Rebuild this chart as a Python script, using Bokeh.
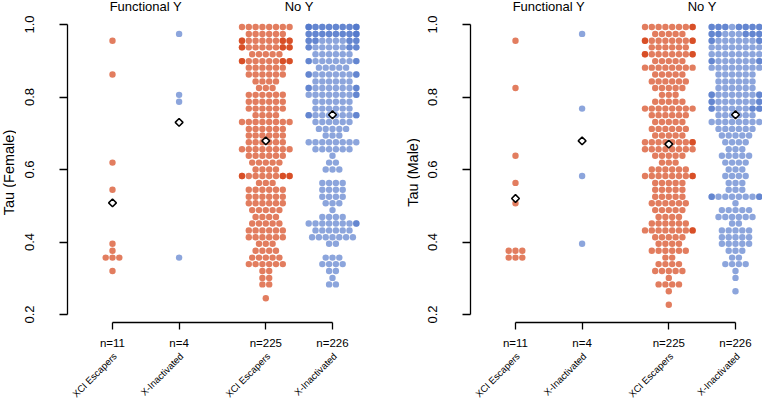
import math
from bokeh.plotting import figure
from bokeh.models import Range1d, FixedTicker, PrintfTickFormatter
from bokeh.layouts import row, column
from bokeh.embed import file_html
from bokeh.resources import INLINE
from bokeh.core.properties import value

# ---- data ----
# beeswarm row levels (tau) from top
tau_levels = [0.993, 0.974, 0.955, 0.937, 0.918, 0.899, 0.881, 0.862, 0.843, 0.825,
              0.806, 0.787, 0.768, 0.750, 0.731, 0.712, 0.694, 0.675, 0.656, 0.638,
              0.619, 0.600, 0.582, 0.563, 0.544, 0.525, 0.507, 0.488, 0.469, 0.451,
              0.432, 0.413, 0.395, 0.376, 0.357, 0.339, 0.320, 0.301, 0.283, 0.264,
              0.245, 0.227]

group_headers = ["Functional Y", "No Y"]
category_names = ["XCI Escapers", "X-Inactivated", "XCI Escapers", "X-Inactivated"]
n_female = [11, 4, 225, 226]
n_male = [11, 4, 225, 226]

# Female: functional-Y groups (tau values)
f_funcy_xci = [0.955, 0.862, 0.618, 0.545, 0.398, 0.379, 0.360, 0.360, 0.360, 0.323]
f_funcy_xin = [0.975, 0.805, 0.787, 0.360]
# Female: no-Y groups (dots per row level)
f_noy_xci = [8, 6, 11, 11, 5, 11, 6, 6, 4, 3, 6, 6, 6, 4, 8, 6, 6, 6, 8, 6,
             5, 4, 11, 3, 6, 6, 6, 5, 4, 5, 6, 6, 3, 4, 5, 6, 2, 2, 2, 0, 1]
f_noy_xin = [18, 17, 12, 11, 6, 10, 5, 10, 6, 10, 9, 6, 6, 10, 6, 5, 3, 8, 6, 1,
             2, 3, 0, 4, 4, 4, 3, 1, 4, 9, 6, 7, 2, 0, 3, 4, 2, 1, 2]
f_means = [0.508, 0.730, 0.679, 0.751]

# Male
m_funcy_xci = [0.955, 0.823, 0.636, 0.563, 0.507, 0.376, 0.376, 0.376, 0.357, 0.357, 0.357]
m_funcy_xin = [0.975, 0.768, 0.582, 0.397]
m_noy_xci = [9, 5, 10, 6, 10, 5, 8, 5, 6, 5, 3, 5, 8, 6, 5, 6, 5, 9, 8, 5,
             3, 6, 9, 5, 5, 5, 6, 5, 4, 6, 9, 5, 4, 6, 2, 4, 5, 1, 4, 1, 0, 1]
m_noy_xin = [15, 13, 10, 8, 8, 10, 8, 6, 6, 6, 10, 10, 11, 6, 8, 6, 5, 4, 3, 5,
             4, 3, 4, 3, 3, 10, 1, 5, 6, 2, 5, 5, 5, 3, 2, 4, 1, 1, 0, 1]
m_means = [0.520, 0.679, 0.670, 0.751]

# ---- layout / style ----
RED = (210, 55, 9)
BLUE = (78, 117, 201)
group_colors = [RED, BLUE, RED, BLUE]
cat_x = [45.0, 111.6, 198.3, 265.0]   # x positions (px units from y axis)
DX = 6.8                              # swarm grid spacing (px)
MAXN = 8                              # corral width in dots
FONT = "Liberation Sans"
H_TOTAL = 398
H_PLOT = 351                          # height of the swarm figure
H_NAMES = H_TOTAL - H_PLOT            # strip holding rotated names
AXIS_Y = 322                          # canvas y of x axis line (frame bottom)
PX_PER_UNIT = 362.5
Y_TOP = 1.0 + 24 / PX_PER_UNIT        # tau 1.0 at canvas y=24
Y_BOT = 1.0 - (AXIS_Y - 24) / PX_PER_UNIT
HEADER_Y = 1.0 + 18 / PX_PER_UNIT
TITLE_CY = 172                        # canvas y of the y-axis title centre


def bin_values(vals):
    counts = [0] * len(tau_levels)
    for v in vals:
        k = min(range(len(tau_levels)), key=lambda i: abs(tau_levels[i] - v))
        counts[k] += 1
    return counts


def swarm(counts, center):
    xs, ys = [], []
    for k, c in enumerate(counts):
        if c == 0:
            continue
        base = min(c, MAXN)
        offs = [i - (base - 1) / 2 for i in range(base)]
        slots = []
        for v in sorted(set(abs(o) for o in offs), reverse=True):
            slots += [v, -v] if v != 0 else [0.0]
        extra = [slots[j % len(slots)] for j in range(c - base)]
        for o in offs + extra:
            xs.append(center + o * DX)
            ys.append(tau_levels[k])
    return xs, ys


def panel(strip_w, title_x, width, border_left, ylabel, groups, means, ns):
    # strip on the left holding the y-axis title
    t = figure(width=strip_w, height=H_TOTAL, output_backend="svg", toolbar_location=None,
               x_range=Range1d(0, strip_w), y_range=Range1d(0, H_TOTAL),
               x_axis_type=None, y_axis_type=None, min_border_left=0,
               min_border_right=0, min_border_top=0, min_border_bottom=0)
    t.outline_line_color = None
    t.grid.grid_line_color = None
    t.text(x=[title_x], y=[H_TOTAL - TITLE_CY], text=[ylabel], angle=math.pi / 2,
           text_align="center", text_baseline="middle", text_font=value(FONT),
           text_font_size=value("14.5px"), text_color="black")

    xr = Range1d(0, width - border_left)
    p = figure(width=width, height=H_PLOT, output_backend="svg", toolbar_location=None,
               x_range=xr, y_range=Range1d(Y_BOT, Y_TOP),
               min_border_left=border_left, min_border_right=0,
               min_border_top=0, min_border_bottom=H_PLOT - AXIS_Y)
    p.outline_line_color = None
    p.grid.grid_line_color = None
    p.background_fill_color = "white"
    p.border_fill_color = "white"

    ya = p.yaxis[0]
    ya.ticker = FixedTicker(ticks=[0.2, 0.4, 0.6, 0.8, 1.0])
    ya.formatter = PrintfTickFormatter(format="%.1f")
    ya.bounds = (0.2, 1.0)
    ya.axis_line_width = 1.3
    ya.axis_line_color = "black"
    ya.major_tick_line_color = "black"
    ya.major_tick_line_width = 1.3
    ya.major_tick_out = 8
    ya.major_tick_in = 0
    ya.minor_tick_line_color = None
    ya.major_label_orientation = "vertical"
    ya.major_label_standoff = 26
    ya.major_label_text_font = FONT
    ya.major_label_text_font_size = "13px"
    ya.major_label_text_color = "black"

    xa = p.xaxis[0]
    xa.ticker = FixedTicker(ticks=cat_x)
    xa.major_label_overrides = {x: "n=%d" % n for x, n in zip(cat_x, ns)}
    xa.bounds = (cat_x[0], cat_x[-1])
    xa.axis_line_width = 1.3
    xa.axis_line_color = "black"
    xa.major_tick_line_width = 1.3
    xa.major_tick_line_color = "black"
    xa.major_tick_out = 7
    xa.major_tick_in = 0
    xa.minor_tick_line_color = None
    xa.major_label_standoff = 7
    xa.major_label_text_font = FONT
    xa.major_label_text_font_size = "11.5px"
    xa.major_label_text_color = "black"

    for counts, cx, col in zip(groups, cat_x, group_colors):
        xs, ys = swarm(counts, cx)
        p.scatter(xs, ys, size=6.4, fill_color="rgb(%d,%d,%d)" % col, fill_alpha=0.65,
                  line_color=None)

    p.scatter(cat_x, means, marker="square", angle=math.pi / 4, size=5.5,
              fill_color="white", line_color="black", line_width=1.5)

    hx = [(cat_x[0] + cat_x[1]) / 2, (cat_x[2] + cat_x[3]) / 2]
    p.text(x=hx, y=[HEADER_Y, HEADER_Y], text=group_headers, text_font=value(FONT),
           text_font_size=value("13px"), text_align="center", text_baseline="middle",
           text_color="black")

    # strip below the axis with the rotated category names (same x frame)
    q = figure(width=width, height=H_NAMES, output_backend="svg", toolbar_location=None,
               x_range=xr, y_range=Range1d(0, H_NAMES), x_axis_type=None,
               y_axis_type=None, min_border_left=border_left, min_border_right=0,
               min_border_top=0, min_border_bottom=0)
    q.outline_line_color = None
    q.grid.grid_line_color = None
    q.text(x=[c + 2.5 for c in cat_x], y=[H_NAMES - 3] * 4, text=category_names,
           angle=math.pi / 4, text_align="right", text_baseline="middle",
           text_font=value(FONT), text_font_size=value("9.5px"), text_color="black")
    return row(t, column(p, q, spacing=0), spacing=0)


left = panel(16, 8, 374, 51, "Tau (Female)",
             [bin_values(f_funcy_xci), bin_values(f_funcy_xin), f_noy_xci, f_noy_xin],
             f_means, n_female)
right = panel(30, 22, 342, 50, "Tau (Male)",
              [bin_values(m_funcy_xci), bin_values(m_funcy_xin), m_noy_xci, m_noy_xin],
              m_means, n_male)

layout = row(left, right, spacing=0)
open("out.html", "w").write(file_html(layout, INLINE))
